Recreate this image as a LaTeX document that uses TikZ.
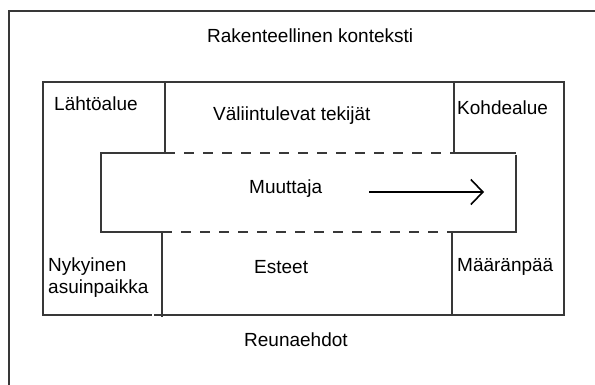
\documentclass[tikz,border=0pt]{standalone}
\usepackage{fontspec}
\setmainfont{Liberation Sans}
\usetikzlibrary{arrows.meta}
\begin{document}
\begin{tikzpicture}[x=1pt,y=-1pt,
  frame/.style={draw=black!78, line width=1.1pt},
  dashline/.style={frame, dash pattern=on 10pt off 9pt},
  lbl/.style={anchor=base west, inner sep=0pt, text=black, font=\fontsize{19}{21}\selectfont},
  flow/.style={draw=black, line width=2pt, -{Straight Barb[length=12pt, width=25pt, line width=1.6pt]}}]
\useasboundingbox (0,0) rectangle (595,385);
% coordinates
\coordinate (oBL) at (9,385);
\coordinate (oTL) at (9,11);
\coordinate (oTR) at (595,11);
\coordinate (bTL) at (43,82);
\coordinate (bTR) at (564,82);
\coordinate (bBR) at (564,315);
\coordinate (bBL) at (43,315);
\coordinate (gapL) at (152,315);
\coordinate (gapR) at (154,315);
\coordinate (d1t) at (165,82);
\coordinate (d1b) at (165,153);
\coordinate (d2t) at (454,82);
\coordinate (d2b) at (454,153);
\coordinate (iTL) at (101,153);
\coordinate (iBL) at (101,232);
\coordinate (iTR) at (516,153);
\coordinate (iTRv) at (516,155);
\coordinate (iBR) at (516,232);
\coordinate (d3t) at (162,232);
\coordinate (d3b) at (162,317);
\coordinate (d4t) at (452,232);
\coordinate (d4b) at (452,315);
\coordinate (aS) at (369,192);
\coordinate (aE) at (484,192);
% outer frame
\draw[frame] (oBL) -- (oTL) -- (oTR);
% main box
\draw[frame] (gapR) -- (bBR) -- (bTR) -- (bTL) -- (bBL) -- (gapL);
% dividers
\draw[frame] (d1t) -- (d1b);
\draw[frame] (d2t) -- (d2b);
\draw[frame] (d3t) -- (d3b);
\draw[frame] (d4t) -- (d4b);
% inner box
\draw[frame] (d1b) -- (iTL) -- (iBL) -- (d3t);
\draw[dashline] (d1b) -- (d2b);
\draw[dashline] (d3t) -- (d4t);
\draw[frame] (d2b) -- (iTR);
\draw[frame] (iTRv) -- (iBR) -- (d4t);
% arrow
\draw[flow] (aS) -- (aE);
% labels
\node[lbl] (ctx) at (207,43) {Rakenteellinen konteksti};
\node[lbl] (lahto) at (54,111) {Lähtöalue};
\node[lbl] (vali) at (213,121) {Väliintulevat tekijät};
\node[lbl] (kohde) at (457,115) {Kohdealue};
\node[lbl] (muut) at (249,194) {Muuttaja};
\node[lbl] (nyk1) at (48,272) {Nykyinen};
\node[lbl] (nyk2) at (48,293) {asuinpaikka};
\node[lbl] (este) at (254,273) {Esteet};
\node[lbl] (maara) at (457,272) {Määränpää};
\node[lbl] (reuna) at (244,346) {Reunaehdot};
\end{tikzpicture}
\end{document}
